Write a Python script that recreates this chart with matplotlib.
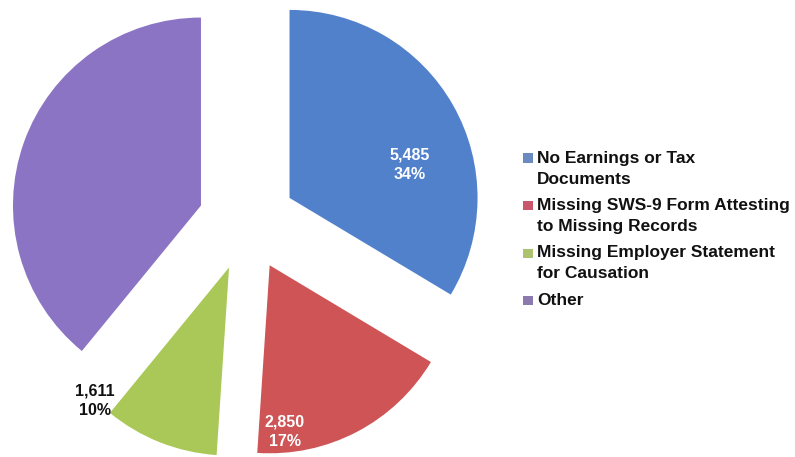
import numpy as np
import matplotlib.pyplot as plt
from matplotlib.patches import Rectangle

categories = ['No Earnings or Tax\nDocuments',
              'Missing SWS-9 Form Attesting\nto Missing Records',
              'Missing Employer Statement\nfor Causation',
              'Other']
counts = [5485, 2850, 1611, 6380]   # "Other" has no label in the source, estimated
colors = ['#5281CC', '#CE5456', '#A9C857', '#8B74C4']
legend_colors = ['#6A8BC0', '#C9566A', '#ADC26E', '#8A7AAE']

# label placement relative to each wedge tip: (fraction of radius, angle in deg)
label_place = [(0.664, 15.3), (0.89, -84.75), (1.006, -135.1), None]
label_color = ['white', 'white', '#111111', None]

W, H = 795, 457
R_PX = 188.0
CX, CY = 247, 222   # pie centre in pixels (from top-left)

fig = plt.figure(figsize=(W / 100, H / 100), dpi=100)
ax = fig.add_axes([0, 0, 1, 1])
total = sum(counts)
wedges, _ = ax.pie(counts, colors=colors, startangle=90, counterclock=False,
                   explode=[0.26] * len(counts), radius=1.0,
                   wedgeprops=dict(linewidth=0))
ax.set_xlim(-CX / R_PX, (W - CX) / R_PX)
ax.set_ylim(-(H - CY) / R_PX, CY / R_PX)
ax.set_aspect('auto')
ax.axis('off')

for w, n, place, col in zip(wedges, counts, label_place, label_color):
    if place is None:
        continue
    r, a = place
    x = w.center[0] + r * np.cos(np.radians(a))
    y = w.center[1] + r * np.sin(np.radians(a))
    ax.text(x, y, f'{n:,}\n{round(100 * n / total)}%', ha='center', va='center',
            color=col, fontsize=11.5, fontweight='bold', family='Liberation Sans',
            linespacing=1.35)

# legend by hand so the marker sits on the first line of each entry
y = 158
for cat, col in zip(categories, legend_colors):
    fig.patches.append(Rectangle((523 / W, 1 - (y + 4.5) / H), 10 / W, 9 / H,
                                 transform=fig.transFigure, color=col, linewidth=0))
    for line in cat.split('\n'):
        fig.text(537 / W, 1 - y / H, line, ha='left', va='center', fontsize=12.5,
                 fontweight='bold', family='Liberation Sans', color='#111111')
        y += 21
    y += 5.5

plt.savefig('out.png', dpi=100)
